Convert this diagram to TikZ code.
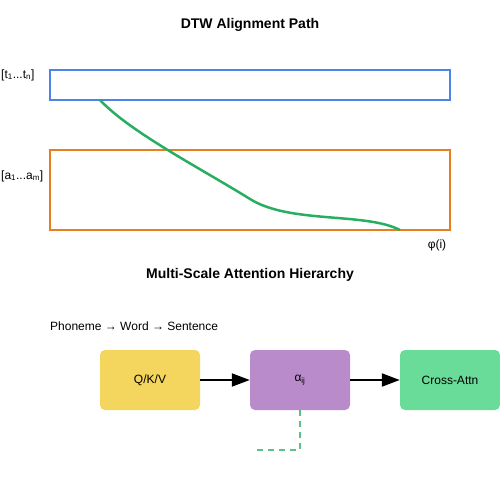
\documentclass[tikz,border=0pt]{standalone}
\usepackage{fontspec}
\setmainfont{Liberation Sans}
\usepackage{xcolor}
\usetikzlibrary{positioning,calc,arrows.meta}
\definecolor{seqblue}{RGB}{74,134,232}
\definecolor{seqorange}{RGB}{230,126,34}
\definecolor{pathgreen}{RGB}{39,174,96}
\definecolor{qkvbg}{RGB}{244,213,94}
\definecolor{alphabg}{RGB}{185,139,203}
\definecolor{crossbg}{RGB}{106,220,154}
\definecolor{dashgreen}{RGB}{91,192,138}

\begin{document}
\begin{tikzpicture}[x=1pt, y=-1pt,
    seq/.style={rectangle, draw, line width=2pt, inner sep=0pt, outer sep=0pt, minimum width=400pt},
    box/.style={rectangle, rounded corners=5pt, minimum width=100pt, minimum height=60pt, align=center, font=\fontsize{12}{14}\selectfont},
    title/.style={font=\fontsize{14}{16}\selectfont\bfseries},
    lbl/.style={font=\fontsize{12}{14}\selectfont, inner sep=0pt},
    arrow/.style={-{Triangle[length=18pt,width=13pt]}, line width=2pt}
]
\useasboundingbox (0,0) rectangle (500,500);

% DTW part
\node[title] (t1) at (250,25) {DTW Alignment Path};
\node[seq, draw=seqblue, minimum height=30pt] (txt) at (250,85) {};
\node[seq, draw=seqorange, minimum height=80pt] (aud) at (250,190) {};
\node[lbl, anchor=west] (tl) at (1,75) {[t\textsubscript{1}...t\textsubscript{n}]};
\node[lbl, anchor=west] (al) at (1,176) {[a\textsubscript{1}...a\textsubscript{m}]};
\node[lbl] (phi) at (437,245) {φ(i)};
\coordinate (ps) at (100,100);
\coordinate (pe) at (400,230);
\draw[pathgreen, line width=2.5pt] (ps) .. controls (130,132) and (200,168) .. (250,199)
    .. controls (290,224) and (365,212) .. (pe);

% attention part
\node[title] (t2) at (250,275) {Multi-Scale Attention Hierarchy};
\node[lbl, anchor=west] (hier) at (50,326) {Phoneme → Word → Sentence};
\node[box, fill=qkvbg] (qkv) at (150,380) {Q/K/V};
\node[box, fill=alphabg] (alpha) at (300,380) {α\textsubscript{ij}};
\node[box, fill=crossbg] (cross) at (450,380) {Cross-Attn};
\coordinate (tail) at (255,450);

\draw[arrow] (qkv) -- (alpha);
\draw[arrow] (alpha) -- (cross);
\draw[dashgreen, line width=2pt, dash pattern=on 6pt off 5pt] (alpha.south) |- (tail);
\end{tikzpicture}
\end{document}
